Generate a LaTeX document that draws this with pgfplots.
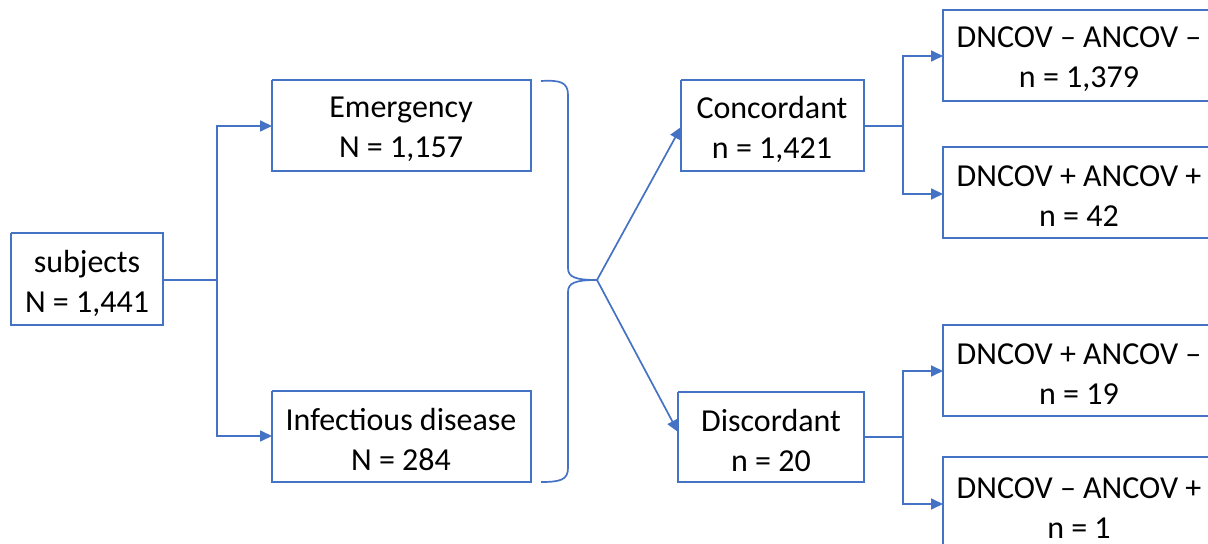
\documentclass[border=0pt]{standalone}
\usepackage{pgfplots}
\pgfplotsset{compat=1.18}
\usepackage{fontspec}
\setmainfont{Carlito}
\usetikzlibrary{arrows.meta}
\definecolor{fc}{HTML}{4472C4}
\begin{document}
\begin{tikzpicture}
\useasboundingbox (0,0) rectangle (604pt,272pt);
\begin{axis}[
  at={(0,0)}, anchor=south west,
  scale only axis, width=604pt, height=272pt,
  xmin=0, xmax=1208, ymin=0, ymax=544, y dir=reverse,
  hide axis, clip=false,
  fl/.style={draw=fc, line width=0.85pt, solid, mark=none},
  fa/.style={fl, -{Triangle[length=6pt,width=5.5pt,fill=fc]}},
  nodes={font=\fontsize{16}{20}\selectfont, align=center, text=black},
]
% boxes
\addplot[fl] coordinates {(11,233) (163,233) (163,325) (11,325) (11,233)};
\addplot[fl] coordinates {(272,80) (531,80) (531,171) (272,171) (272,80)};
\addplot[fl] coordinates {(272,391) (531,391) (531,482) (272,482) (272,391)};
\addplot[fl] coordinates {(681,80) (864,80) (864,171) (681,171) (681,80)};
\addplot[fl] coordinates {(678,392) (864,392) (864,482) (678,482) (678,392)};
\addplot[fl] coordinates {(1216,10) (943,10) (943,101) (1216,101)};
\addplot[fl] coordinates {(1216,147) (943,147) (943,238) (1216,238)};
\addplot[fl] coordinates {(1216,325) (943,325) (943,416) (1216,416)};
\addplot[fl] coordinates {(1216,457) (943,457) (943,550)};
% connectors
\addplot[fl] coordinates {(163,280) (217,280)};
\addplot[fa] coordinates {(217,280) (217,126) (272,126)};
\addplot[fa] coordinates {(217,280) (217,436) (272,436)};
\addplot[fa] coordinates {(597,280) (681,127)};
\addplot[fa] coordinates {(597,280) (678,432)};
\addplot[fl] coordinates {(864,126) (903,126)};
\addplot[fa] coordinates {(903,126) (903,56) (943,56)};
\addplot[fa] coordinates {(903,126) (903,194) (943,194)};
\addplot[fl] coordinates {(864,437) (903,437)};
\addplot[fa] coordinates {(903,437) (903,371) (943,371)};
\addplot[fa] coordinates {(903,437) (903,504) (943,504)};
% brace
\draw[fc, line width=0.85pt] (axis cs:541,81) .. controls (axis cs:560,80) and (axis cs:568,82) .. (axis cs:568,95)
  -- (axis cs:568,268) .. controls (axis cs:568,277) and (axis cs:575,280) .. (axis cs:597,280)
  .. controls (axis cs:575,280) and (axis cs:568,283) .. (axis cs:568,292)
  -- (axis cs:568,468) .. controls (axis cs:568,480) and (axis cs:560,482) .. (axis cs:541,482);
% texts
\node at (axis cs:87,283) {subjects\\N = 1,441};
\node at (axis cs:401,129) {Emergency\\N = 1,157};
\node at (axis cs:401,440) {Infectious disease\\N = 284};
\node at (axis cs:772,129) {Concordant\\n = 1,421};
\node at (axis cs:771,440) {Discordant\\n = 20};
\node at (axis cs:1079,59) {DNCOV – ANCOV –\\n = 1,379};
\node at (axis cs:1079,196) {DNCOV + ANCOV +\\n = 42};
\node at (axis cs:1079,374) {DNCOV + ANCOV –\\n = 19};
\node at (axis cs:1079,508) {DNCOV – ANCOV +\\n = 1};
\end{axis}
\end{tikzpicture}
\end{document}
